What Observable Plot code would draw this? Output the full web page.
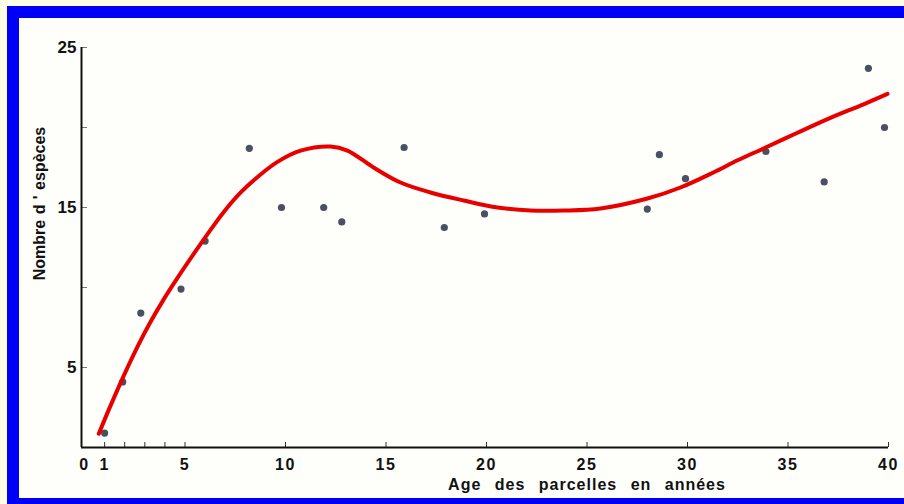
<!DOCTYPE html>
<html>
<head>
<meta charset="utf-8">
<script src="https://cdn.jsdelivr.net/npm/d3@7"></script>
<script src="https://cdn.jsdelivr.net/npm/@observablehq/plot@0.6"></script>
<style>
  html, body { margin: 0; padding: 0; background: #fffde8; width: 904px; height: 504px; overflow: hidden; }
  #frame { position: absolute; left: 7px; top: 6px; width: 1000px; height: 1000px; background: #0000f6; }
  #panel { position: absolute; left: 19px; top: 18px; width: 1000px; height: 480px; background: #fefefb; }
  #chart { position: absolute; left: 0; top: 0; }
  #chart svg { background: transparent; overflow: visible; }
</style>
</head>
<body>
<div id="frame"></div>
<div id="panel"></div>
<div id="chart"></div>
<script>
// Observed points (age of plots in years, number of species)
const pointAge     = [1, 1.9, 2.8, 4.8, 6, 8.2, 9.8, 11.9, 12.8, 15.9, 17.9, 19.9, 28, 28.6, 29.9, 33.9, 36.8, 39, 39.8];
const pointSpecies = [0.9, 4.1, 8.4, 9.9, 12.9, 18.7, 15, 15, 14.1, 18.75, 13.75, 14.6, 14.9, 18.3, 16.8, 18.5, 16.6, 23.7, 20];

// Fitted curve
const curveAge     = [0.71, 1.29, 1.95, 2.62, 3.28, 3.94, 4.61, 5.44, 6.27, 6.92, 7.76, 8.61, 9.6, 10.75, 12.24, 13.08, 14.38, 15.72, 17.21, 18.86, 20.55, 22.19, 23.83, 25.67, 28.01, 29.65, 31.29, 32.49, 33.78, 35.47, 37.11, 38.76, 39.95];
const curveSpecies = [0.86, 2.6, 4.48, 6.26, 7.84, 9.26, 10.57, 12.11, 13.6, 14.71, 15.93, 16.91, 17.85, 18.55, 18.81, 18.56, 17.5, 16.56, 15.94, 15.44, 15.0, 14.81, 14.81, 14.94, 15.56, 16.25, 17.19, 17.95, 18.69, 19.67, 20.6, 21.45, 22.1];

const xTickMarks  = [1, 2, 3, 4, 5, 10, 15, 20, 25, 30, 35, 40];
const xTickLabels = [0, 1, 5, 10, 15, 20, 25, 30, 35, 40];
const yTickMarks  = [5, 10, 15, 20, 25];
const yTickLabels = [5, 15, 25];
const xTitle = "Age des parcelles en années";
const yTitle = "Nombre d ' espèces";

const points = pointAge.map((a, i) => ({age: a, n: pointSpecies[i]}));
const curve = curveAge.map((a, i) => ({age: a, n: curveSpecies[i]}));

const font = "'Liberation Sans', Arial, sans-serif";
const xMin = -0.15;

const chart = Plot.plot({
  width: 904,
  height: 504,
  marginLeft: 81,
  marginRight: 16,
  marginTop: 47,
  marginBottom: 57,
  style: {fontFamily: font, fontWeight: "bold", fontSize: "16px", color: "#111", background: "transparent"},
  x: {domain: [xMin, 40]},
  y: {domain: [0, 25]},
  marks: [
    Plot.axisX({ticks: xTickMarks, tickSize: -5, tickFormat: () => "", stroke: "#333", label: null}),
    Plot.axisX({ticks: xTickLabels, tickSize: 0, tickPadding: 11, fontSize: 16, fontWeight: "bold", fill: "#111", label: null}),
    Plot.axisY({ticks: yTickMarks, tickSize: -6, tickFormat: () => "", stroke: "#776", label: null}),
    Plot.axisY({ticks: yTickLabels, tickSize: 0, tickPadding: 5, fontSize: 17, fontWeight: "bold", fill: "#111", label: null}),
    Plot.ruleY([0], {x1: xMin, x2: 40, stroke: "#111", strokeWidth: 2}),
    Plot.ruleX([xMin], {y1: 0, y2: 25, stroke: "#111", strokeWidth: 2}),
    Plot.dot(points, {x: "age", y: "n", r: 3.6, fill: "#4b4f62", stroke: "none"}),
    Plot.line(curve, {x: "age", y: "n", curve: "catmull-rom", stroke: "#e80000", strokeWidth: 4}),
    Plot.text([xTitle], {x: 25, frameAnchor: "bottom", dy: 42, fontSize: 16, fontWeight: "bold", fill: "#111"}),
    Plot.text([yTitle], {x: -2.24, y: 15.25, rotate: -90, fontSize: 16, fontWeight: "bold", fill: "#111"})
  ]
});
const svg = d3.select(chart);
const texts = svg.selectAll("text");
texts.filter(function() { return this.textContent === xTitle; })
  .style("letter-spacing", "1px").style("word-spacing", "8px");
texts.filter(function() { return this.textContent === yTitle; })
  .style("word-spacing", "1px");
texts.filter(function() { return xTickLabels.map(String).includes(this.textContent) && this.closest('g[aria-label="x-axis tick label"]'); })
  .style("letter-spacing", "1.5px");
document.getElementById("chart").appendChild(chart);
</script>
</body>
</html>
